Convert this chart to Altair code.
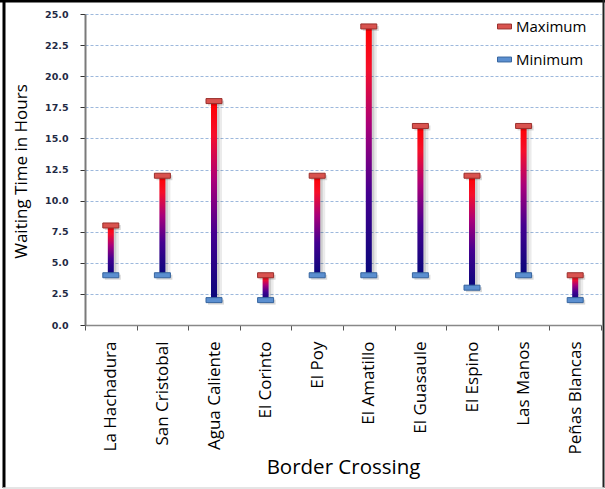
import altair as alt
import pandas as pd

# Waiting times at Central American border crossings (hours)
crossings = ["La Hachadura", "San Cristobal", "Agua Caliente", "El Corinto", "El Poy",
             "El Amatillo", "El Guasaule", "El Espino", "Las Manos", "Peñas Blancas"]
minimum = [4, 4, 2, 2, 4, 4, 4, 3, 4, 2]
maximum = [8, 12, 18, 4, 12, 24, 16, 12, 16, 4]
y_ticks = [0, 2.5, 5, 7.5, 10, 12.5, 15, 17.5, 20, 22.5, 25]

ranges = pd.DataFrame({"crossing": crossings, "min": minimum, "max": maximum})
caps = pd.DataFrame({
    "crossing": crossings * 2,
    "kind": ["Maximum"] * len(crossings) + ["Minimum"] * len(crossings),
    "value": maximum + minimum,
})

FONT = "Open Sans"

x_enc = alt.X(
    "crossing:N", sort=crossings, title="Border Crossing",
    scale=alt.Scale(paddingInner=0, paddingOuter=0),
    axis=alt.Axis(labelAngle=-90, labelFont=FONT, labelFontSize=17, labelColor="#000",
                  labelPadding=11, tickSize=5, tickBand="extent", tickColor="#555",
                  domainColor="#888", domainWidth=1.5, labelOverlap=False,
                  titleFont=FONT, titleFontSize=20.5, titleFontWeight="normal", titleColor="#000",
                  titleY=142, titleBaseline="middle"),
)
y_scale = alt.Scale(domain=[0, 25], nice=False)
y_axis = alt.Axis(values=y_ticks, format=".1f", labelFont="DejaVu Sans", labelFontSize=9.5,
                  labelFontWeight="bold", labelColor="#1f2a44", labelPadding=12,
                  tickSize=5, tickColor="#333",
                  domainColor="#7a7a7a", domainWidth=2, labelOverlap=False,
                  grid=True, gridColor="#9db8dc", gridDash=[3, 2], gridWidth=1,
                  titleFont=FONT, titleFontSize=17, titleFontWeight="normal", titleColor="#000",
                  titleX=-64, titleY=157, titleBaseline="middle")


def y_enc(field):
    return alt.Y(field, scale=y_scale, axis=y_axis, title="Waiting Time in Hours")


base = alt.Chart(ranges)

bar_gradient = alt.Gradient(
    gradient="linear", x1=0, x2=0, y1=1, y2=0,
    stops=[
        alt.GradientStop(color="#08087a", offset=0),
        alt.GradientStop(color="#440090", offset=0.33),
        alt.GradientStop(color="#a8007a", offset=0.6),
        alt.GradientStop(color="#f50f2a", offset=0.83),
        alt.GradientStop(color="#ff0000", offset=1),
    ],
)

shadow_wide = base.mark_bar(size=8, color="#000", opacity=0.08, xOffset=4, yOffset=3).encode(
    x=x_enc, y=y_enc("min:Q"), y2="max:Q")
shadow_narrow = base.mark_bar(size=5, color="#000", opacity=0.12, xOffset=3, yOffset=2).encode(
    x=x_enc, y=y_enc("min:Q"), y2="max:Q")
bars = base.mark_bar(size=6, color=bar_gradient).encode(
    x=x_enc, y=y_enc("min:Q"), y2="max:Q")

cap_base = alt.Chart(caps)
cap_shadow = cap_base.mark_tick(size=16, thickness=5, color="#000", opacity=0.15,
                                xOffset=2, yOffset=2).encode(
    x=x_enc, y=y_enc("value:Q"))
cap_marks = cap_base.mark_tick(size=16, thickness=5, strokeWidth=1, opacity=1).encode(
    x=x_enc,
    y=y_enc("value:Q"),
    color=alt.Color("kind:N", scale=alt.Scale(domain=["Maximum", "Minimum"],
                                              range=["#d9534f", "#5b8fd0"]),
                    legend=alt.Legend(title=None, orient="none", legendX=412, legendY=5,
                                      labelFont=FONT, labelFontSize=15, labelColor="#000",
                                      symbolType="M-1,-0.35L1,-0.35L1,0.35L-1,0.35Z",
                                      symbolSize=196, symbolStrokeWidth=1,
                                      symbolOpacity=1, rowPadding=17, labelOffset=4)),
    stroke=alt.Stroke("kind:N", scale=alt.Scale(domain=["Maximum", "Minimum"],
                                                range=["#9a2f2c", "#36649e"]),
                      legend=None),
)

# Frame around the whole figure
one = alt.Data(values=[{}])
frame_left = alt.Chart(one).mark_rule(color="#000", strokeWidth=3).encode(
    x=alt.value(-81), y=alt.value(-14), y2=alt.value(474))
frame_top = alt.Chart(one).mark_rule(color="#000", strokeWidth=3).encode(
    x=alt.value(-85), x2=alt.value(520), y=alt.value(-13))
frame_right = alt.Chart(one).mark_rule(color="#222", strokeWidth=2).encode(
    x=alt.value(518.5), y=alt.value(-14), y2=alt.value(474))
frame_bottom = alt.Chart(one).mark_rule(color="#ddd", strokeWidth=1.5).encode(
    x=alt.value(-82), x2=alt.value(519), y=alt.value(474))

chart = alt.layer(
    shadow_wide, shadow_narrow, bars, cap_shadow, cap_marks,
    frame_left, frame_top, frame_right, frame_bottom,
).properties(
    width=516, height=311,
    autosize=alt.AutoSizeParams(type="none"),
    padding={"left": 85, "top": 14, "right": 4, "bottom": 164},
    background="white",
).configure_view(stroke=None)

chart.save("out.html", embed_options={"renderer": "svg", "actions": False})
